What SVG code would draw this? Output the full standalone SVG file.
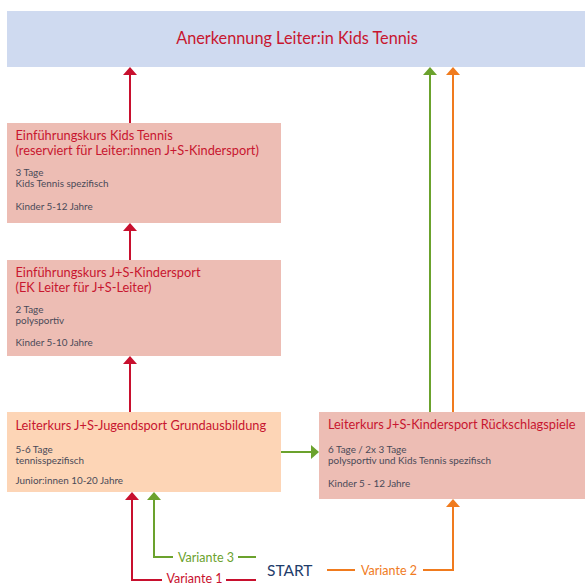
<svg xmlns="http://www.w3.org/2000/svg" width="585" height="585" viewBox="0 0 585 585">
<style>
.t{font-family:Lato,"Open Sans","Liberation Sans",sans-serif;}
.title{font-size:12.8px;fill:#C8162F;}
.small{font-size:9.9px;fill:#4A4A58;}
.lbl{font-size:12.5px;}
.ln{fill:none;stroke-width:2;}
.red{stroke:#C8102E;}
.grn{stroke:#6BA22D;}
.org{stroke:#F07B1E;}
</style>
<rect width="585" height="585" fill="#ffffff"/>
<g id="anerkennung">
<rect x="7" y="11" width="578" height="56" fill="#CFDAF0"/>
<text class="t" x="297" y="44" text-anchor="middle" font-size="16.3" fill="#C8162F">Anerkennung Leiter:in Kids Tennis</text>
</g>
<g id="ek-kids-tennis">
<rect x="7" y="123" width="274" height="100" fill="#EDBDB4"/>
<text class="t title" x="15.5" y="139.5">Einführungskurs Kids Tennis</text>
<text class="t title" x="15.5" y="155">(reserviert für Leiter:innen J+S-Kindersport)</text>
<text class="t small" x="15.5" y="176">3 Tage</text>
<text class="t small" x="15.5" y="187">Kids Tennis spezifisch</text>
<text class="t small" x="15.5" y="210">Kinder 5-12 Jahre</text>
</g>
<g id="ek-kindersport">
<rect x="7" y="260" width="274" height="96" fill="#EDBDB4"/>
<text class="t title" x="15.5" y="276.5">Einführungskurs J+S-Kindersport</text>
<text class="t title" x="15.5" y="292">(EK Leiter für J+S-Leiter)</text>
<text class="t small" x="15.5" y="313">2 Tage</text>
<text class="t small" x="15.5" y="324">polysportiv</text>
<text class="t small" x="15.5" y="346">Kinder 5-10 Jahre</text>
</g>
<g id="lk-jugendsport">
<rect x="7" y="412" width="274" height="80" fill="#FDD5B6"/>
<text class="t title" x="15.5" y="430">Leiterkurs J+S-Jugendsport Grundausbildung</text>
<text class="t small" x="15.5" y="453">5-6 Tage</text>
<text class="t small" x="15.5" y="464">tennisspezifisch</text>
<text class="t small" x="15.5" y="484">Junior:innen 10-20 Jahre</text>
</g>
<g id="lk-kindersport">
<rect x="319" y="412" width="266" height="87" fill="#EDBDB4"/>
<text class="t title" x="328" y="429">Leiterkurs J+S-Kindersport Rückschlagspiele</text>
<text class="t small" x="328" y="453">6 Tage / 2x 3 Tage</text>
<text class="t small" x="328" y="464">polysportiv und Kids Tennis spezifisch</text>
<text class="t small" x="328" y="487" font-size="12">Kinder 5 - 12 Jahre</text>
</g>
<g id="start">
<text class="t" x="267" y="576" font-size="15.5" fill="#1F3D6B">START</text>
</g>
<g id="connectors">
<path class="ln red" d="M130 123 V75"/>
<path d="M123 75 L130 67 L137 75 Z" fill="#C8102E"/>
<path class="ln red" d="M130 260 V231"/>
<path d="M123 231 L130 223 L137 231 Z" fill="#C8102E"/>
<path class="ln red" d="M130 412 V364"/>
<path d="M123 364 L130 356 L137 364 Z" fill="#C8102E"/>
<path class="ln grn" d="M281 452 H311"/>
<path d="M311 445 L319 452 L311 459 Z" fill="#6BA22D"/>
<path class="ln grn" d="M430 412 V75"/>
<path d="M423 75 L430 67 L437 75 Z" fill="#6BA22D"/>
<path class="ln org" d="M453 412 V75"/>
<path d="M446 75 L453 67 L460 75 Z" fill="#F07B1E"/>
<path class="ln red" d="M256 580 H226"/>
<path class="ln red" d="M162 580 H132 V500"/>
<path d="M125 500 L132 492 L139 500 Z" fill="#C8102E"/>
<path class="ln grn" d="M256 557 H238"/>
<path class="ln grn" d="M173 557 H154 V500"/>
<path d="M147 500 L154 492 L161 500 Z" fill="#6BA22D"/>
<path class="ln org" d="M327 570 H355"/>
<path class="ln org" d="M423 570 H453 V507"/>
<path d="M446 507 L453 499 L460 507 Z" fill="#F07B1E"/>
<text class="t lbl" x="194.5" y="582.5" text-anchor="middle" fill="#C8102E">Variante 1</text>
<text class="t lbl" x="206" y="561.5" text-anchor="middle" fill="#6BA22D">Variante 3</text>
<text class="t lbl" x="389" y="574.5" text-anchor="middle" fill="#F07B1E">Variante 2</text>
</g>
</svg>
